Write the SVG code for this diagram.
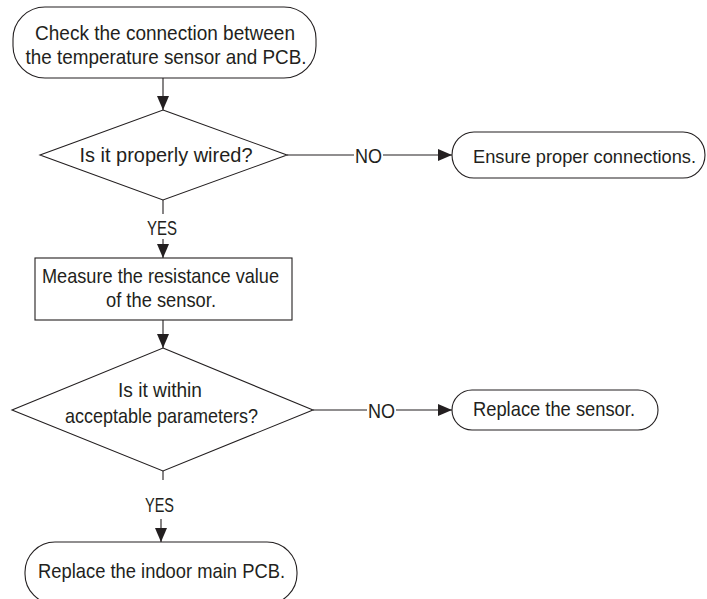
<svg xmlns="http://www.w3.org/2000/svg" width="707" height="599" viewBox="0 0 707 599">
<style>
.shape{fill:#fff;stroke:#231f20;stroke-width:1.1}
.line{fill:none;stroke:#231f20;stroke-width:1.1}
text{font-family:"Liberation Sans Narrow","Liberation Sans",Arial,sans-serif;font-size:21px;fill:#231f20;text-anchor:middle}
</style>
<defs>
<marker id="arr" markerUnits="userSpaceOnUse" markerWidth="14" markerHeight="12" viewBox="0 0 14 12" refX="14" refY="6" orient="auto">
<path d="M0,0 L14,6 L0,12 Z" fill="#231f20"/>
</marker>
</defs>
<rect width="707" height="599" fill="#fff"/>
<g id="connectors">
<line class="line" x1="163" y1="78" x2="163" y2="110" marker-end="url(#arr)"/>
<line class="line" x1="287" y1="155" x2="354" y2="155"/>
<line class="line" x1="383" y1="155" x2="452" y2="155" marker-end="url(#arr)"/>
<text x="368.5" y="163" textLength="27" lengthAdjust="spacingAndGlyphs">NO</text>
<line class="line" x1="163" y1="200" x2="163" y2="214"/>
<text x="162" y="235" textLength="30" lengthAdjust="spacingAndGlyphs">YES</text>
<line class="line" x1="163" y1="239" x2="163" y2="258" marker-end="url(#arr)"/>
<line class="line" x1="163" y1="320" x2="163" y2="348" marker-end="url(#arr)"/>
<line class="line" x1="313" y1="410" x2="367" y2="410"/>
<line class="line" x1="396" y1="410" x2="452" y2="410" marker-end="url(#arr)"/>
<text x="381.5" y="418" textLength="27" lengthAdjust="spacingAndGlyphs">NO</text>
<line class="line" x1="163" y1="471" x2="163" y2="480"/>
<text x="159.5" y="512" textLength="29" lengthAdjust="spacingAndGlyphs">YES</text>
<line class="line" x1="161" y1="519" x2="161" y2="542" marker-end="url(#arr)"/>
</g>
<g id="n1">
<rect class="shape" x="13" y="7" width="303" height="71" rx="32" ry="32"/>
<text x="165" y="40" textLength="260" lengthAdjust="spacingAndGlyphs">Check the connection between</text>
<text x="166" y="64" textLength="281" lengthAdjust="spacingAndGlyphs">the temperature sensor and PCB.</text>
</g>
<g id="d1">
<polygon class="shape" points="163,110 287,155 163,200 40,155"/>
<text x="166" y="162" textLength="173" lengthAdjust="spacingAndGlyphs">Is it properly wired?</text>
</g>
<g id="n2">
<rect class="shape" x="452" y="132" width="253" height="46" rx="22" ry="23"/>
<text x="473" y="163" textLength="223" lengthAdjust="spacingAndGlyphs" style="text-anchor:start;font-size:19px">Ensure proper connections.</text>
</g>
<g id="n3">
<rect class="shape" x="35" y="258" width="257" height="62"/>
<text x="160.5" y="283" textLength="237" lengthAdjust="spacingAndGlyphs">Measure the resistance value</text>
<text x="161" y="307" textLength="110" lengthAdjust="spacingAndGlyphs">of the sensor.</text>
</g>
<g id="d2">
<polygon class="shape" points="163,348 313,410 163,471 12,410"/>
<text x="160" y="397" textLength="84" lengthAdjust="spacingAndGlyphs">Is it within</text>
<text x="161.5" y="423" textLength="193" lengthAdjust="spacingAndGlyphs">acceptable parameters?</text>
</g>
<g id="n4">
<rect class="shape" x="452" y="390" width="206" height="40" rx="20" ry="20"/>
<text x="554" y="416" textLength="162" lengthAdjust="spacingAndGlyphs">Replace the sensor.</text>
</g>
<g id="n5">
<rect class="shape" x="25" y="542" width="272" height="62" rx="30" ry="30"/>
<text x="161.5" y="578" textLength="247" lengthAdjust="spacingAndGlyphs">Replace the indoor main PCB.</text>
</g>
</svg>
